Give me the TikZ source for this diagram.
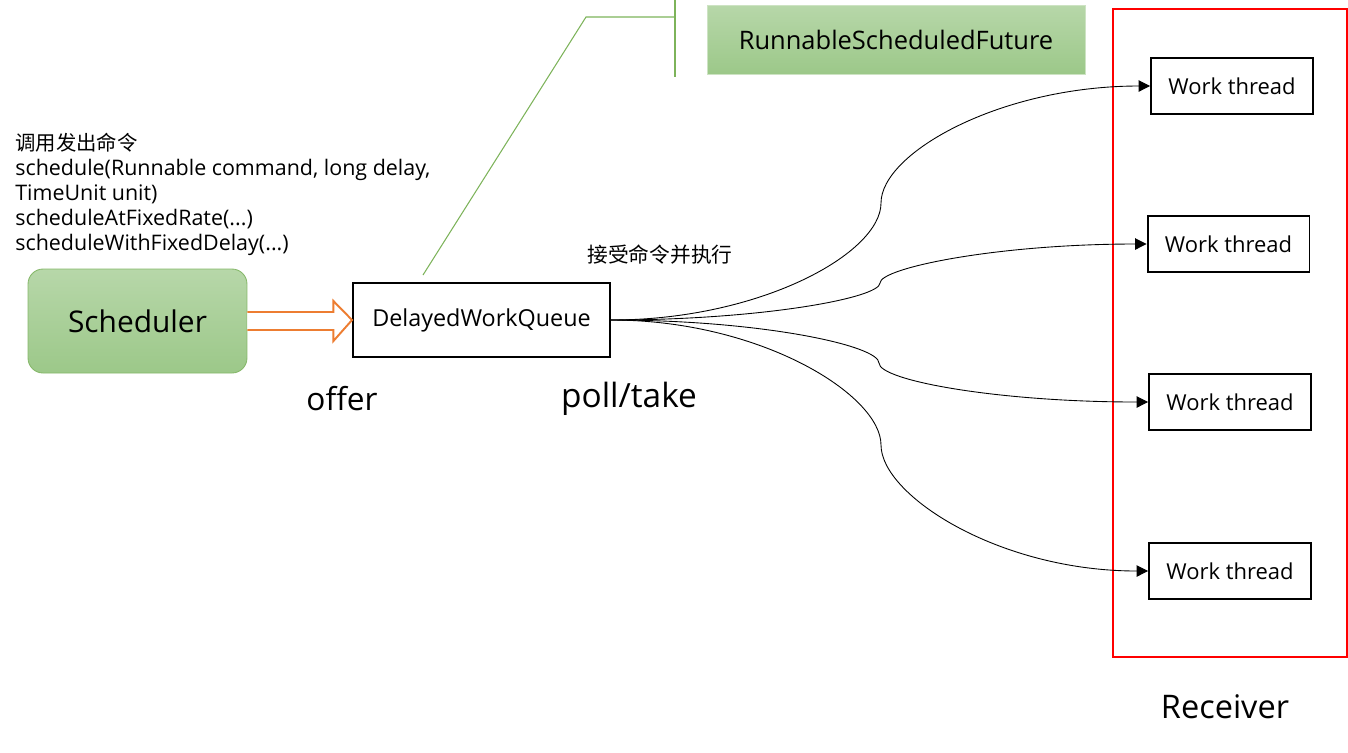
\documentclass[tikz,border=0pt]{standalone}
\usepackage{fontspec}
\setmainfont{Open Sans}
\newfontfamily\cjk{Noto Sans CJK SC}
\usetikzlibrary{positioning, arrows.meta, calc}
\definecolor{greenTop}{HTML}{B7D7A9}
\definecolor{greenBot}{HTML}{9CC889}
\definecolor{greenLine}{HTML}{86B86A}
\definecolor{calloutGreen}{HTML}{7DB35A}
\definecolor{offerOrange}{HTML}{ED7D31}
\definecolor{recvRed}{HTML}{FF0000}

\begin{document}
\begin{tikzpicture}[
    x=0.02cm, y=-0.02cm,
    box/.style={rectangle, draw, line width=1.1pt, align=center, fill=white, font=\fontsize{12.5}{14}\selectfont},
    greenbox/.style={rectangle, draw=greenLine, line width=0.5pt, top color=greenTop, bottom color=greenBot, align=center},
    worker/.style={box, minimum width=3.24cm, minimum height=1.12cm},
    arrow/.style={-{Triangle[length=6.5pt, width=6.5pt]}, line width=0.5pt},
    biglabel/.style={font=\fontsize{18}{20}\selectfont, inner sep=0pt}
]
\useasboundingbox (0,0) rectangle (1348,752);

% boxes
\node[greenbox, rounded corners=0.3cm, minimum width=4.38cm, minimum height=2.08cm, font=\fontsize{17}{20}\selectfont] (sched) at (137.5,321) {Scheduler};
\node[box, minimum width=5.14cm, minimum height=1.48cm, font=\fontsize{13.3}{16}\selectfont] (queue) at (481.5,320) {DelayedWorkQueue};
\node[greenbox, draw=greenTop!70!white, minimum width=7.56cm, minimum height=1.38cm, font=\fontsize{14.5}{16}\selectfont] (future) at (896,39.5) {RunnableScheduledFuture};

% receiver frame
\draw[recvRed, line width=1.1pt] (1113,9) rectangle (1347,657);
\node[worker] (w1) at (1232,86) {Work thread};
\node[worker] (w2) at (1228.5,244) {Work thread};
\node[worker] (w3) at (1230,402) {Work thread};
\node[worker] (w4) at (1230,571) {Work thread};

% labels
\node[anchor=north west, align=left, inner sep=0pt, font=\fontsize{12.2}{14.2}\selectfont] (calls) at (15,133) {{\cjk\fontsize{11.6}{14.2}\selectfont 调用发出命令}\\schedule(Runnable command, long delay,\\TimeUnit unit)\\scheduleAtFixedRate(...)\\scheduleWithFixedDelay(...)};
\node[anchor=west, inner sep=0pt, font=\cjk\fontsize{11.8}{14}\selectfont] (exec) at (587,255) {接受命令并执行};
\node[biglabel] (offer) at (342,399) {offer};
\node[biglabel, font=\fontsize{19}{21}\selectfont] (poll) at (629,399) {poll/take};
\node[biglabel, font=\fontsize{18.5}{21}\selectfont] (recv) at (1225,707) {Receiver};

% offer arrow
\draw[offerOrange, line width=1.1pt, fill=white]
    ($(sched.east)+(0,-9)$) -- ++(86,0) -- ++(0,-11) -- (queue.west) -- ($(sched.east)+(86,20)$) -- ++(0,-11) -- ($(sched.east)+(0,9)$);

% callout line
\coordinate (c1) at (423,275);
\coordinate (c2) at (586,17);
\coordinate (c3) at (675,17);
\draw[calloutGreen, line width=0.6pt] (c1) -- (c2) -- (c3);
\draw[calloutGreen, line width=0.6pt] (675,0) -- (675,77);

% poll/take curves
\coordinate (m1) at (881,203);
\coordinate (m2) at (880,283);
\coordinate (m3) at (879,363);
\coordinate (m4) at (881,445);
\draw[arrow] (queue.east) to[out=0, in=-90, out distance=3cm, in distance=1cm] (m1)
    to[out=90, in=180, out distance=1cm, in distance=3cm] (w1.west);
\draw[arrow] (queue.east) to[out=0, in=-90, out distance=3cm, in distance=0.3cm] (m2)
    to[out=90, in=180, out distance=0.3cm, in distance=3cm] (w2.west);
\draw[arrow] (queue.east) to[out=0, in=90, out distance=3cm, in distance=0.35cm] (m3)
    to[out=-90, in=180, out distance=0.35cm, in distance=3cm] (w3.west);
\draw[arrow] (queue.east) to[out=0, in=90, out distance=3cm, in distance=1cm] (m4)
    to[out=-90, in=180, out distance=1cm, in distance=3cm] (w4.west);

\end{tikzpicture}
\end{document}
